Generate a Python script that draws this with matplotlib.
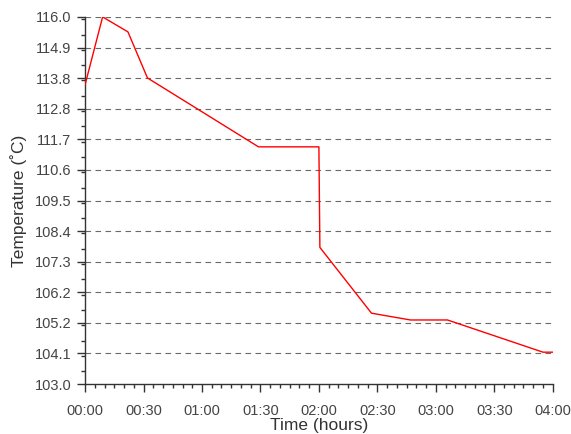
import numpy as np
import matplotlib
matplotlib.use("Agg")
import matplotlib.pyplot as plt
from matplotlib.ticker import MultipleLocator, FuncFormatter

plt.rcParams['font.family'] = ['Liberation Sans', 'DejaVu Sans']

# time in minutes since start, temperature in deg C
minutes = [0, 9, 22, 32, 89, 120, 120.5, 147, 167, 186, 235, 240]
temps = [113.6, 116.0, 115.47, 113.84, 111.4, 111.4, 107.84, 105.51, 105.27, 105.27, 104.13, 104.13]

y_min, y_max = 103.0, 116.0
x_ticks = np.arange(0, 241, 30)

fig = plt.figure(figsize=(5.71, 4.34), dpi=100)
ax = fig.add_axes([0.149, 0.115, 0.819, 0.846])

ax.plot(minutes, temps, color='#ff0000', lw=1.0, zorder=3)

ax.set_xlim(0, 240)
ax.set_ylim(y_min, y_max)

yt = np.linspace(y_min, y_max, 13)
ax.set_yticks(yt)
ax.set_yticklabels([f"{v:.1f}" for v in yt])
ax.yaxis.set_minor_locator(MultipleLocator((y_max - y_min) / 24))

ax.set_xticks(x_ticks)
ax.xaxis.set_major_formatter(FuncFormatter(lambda v, p: f"{int(v)//60:02d}:{int(v)%60:02d}"))
ax.xaxis.set_minor_locator(MultipleLocator(5))

for y in yt[1:]:
    ax.axhline(y, color='#6a6a6a', lw=0.8, ls=(0, (5, 4)), zorder=1)

for s in ['top', 'right']:
    ax.spines[s].set_visible(False)
for s in ['left', 'bottom']:
    ax.spines[s].set_color('#333333')
    ax.spines[s].set_linewidth(1.0)

ax.tick_params(which='major', length=6, width=1, color='#333333', labelsize=10.5, labelcolor='#444444')
ax.tick_params(axis='x', which='major', pad=8.5)
ax.tick_params(axis='y', which='major', pad=4)
ax.tick_params(which='minor', length=3, width=1, color='#333333')

ax.set_xlabel("Time (hours)", fontsize=12.5, color='#333333', labelpad=0)
ax.set_ylabel("Temperature (\u02daC)", fontsize=12.5, color='#333333', labelpad=5)

fig.savefig("out.png", dpi=100)
